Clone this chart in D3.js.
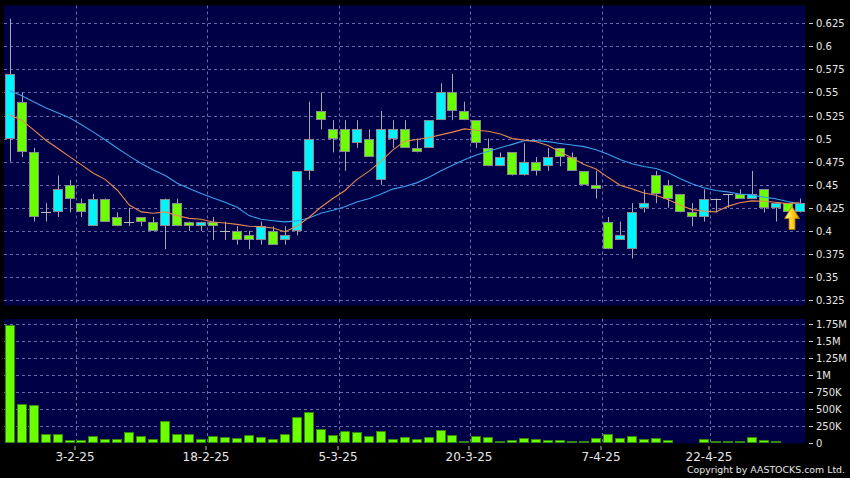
<!DOCTYPE html>
<html><head><meta charset="utf-8">
<script src="https://cdn.jsdelivr.net/npm/d3@7/dist/d3.min.js"></script>
<style>html,body{margin:0;padding:0;background:#000;}svg{display:block}</style>
</head><body>
<svg id="c" width="850" height="478"></svg>
<script>
// ---- data ----
const dates = ["21-1-25","22-1-25","23-1-25","24-1-25","27-1-25","28-1-25",
 "3-2-25","4-2-25","5-2-25","6-2-25","7-2-25","10-2-25","11-2-25","12-2-25","13-2-25","14-2-25",
 "17-2-25","18-2-25","19-2-25","20-2-25","21-2-25","24-2-25","25-2-25","26-2-25","27-2-25","28-2-25",
 "3-3-25","4-3-25","5-3-25","6-3-25","7-3-25","10-3-25","11-3-25","12-3-25","13-3-25","14-3-25",
 "17-3-25","18-3-25","19-3-25","20-3-25","21-3-25","24-3-25","25-3-25","26-3-25","27-3-25","28-3-25","31-3-25",
 "1-4-25","2-4-25","3-4-25","7-4-25","8-4-25","9-4-25","10-4-25","11-4-25","14-4-25","15-4-25","16-4-25","17-4-25",
 "22-4-25","23-4-25","24-4-25","25-4-25","28-4-25","29-4-25","30-4-25","2-5-25"];
const open  = [.50,.54,.485,.42,.42,.45,.43,.405,.435,.415,.41,.415,.41,.405,.43,.41,.405,.41,.40,.40,
 .395,.39,.40,.39,.40,.465,.53,.51,.51,.495,.50,.455,.50,.51,.49,.49,.52,.55,.53,.52,
 .49,.47,.485,.46,.475,.47,.49,.48,.465,.45,.41,.39,.38,.425,.46,.45,.44,.42,.415,.435,
 .44,.44,.435,.445,.425,.43,.42];
const high  = [.63,.55,.49,.43,.46,.455,.435,.44,.435,.42,.425,.415,.415,.435,.435,.41,.41,.415,.41,.405,
 .40,.41,.405,.405,.465,.54,.55,.52,.52,.52,.51,.53,.52,.52,.50,.52,.56,.57,.54,.52,
 .50,.485,.485,.495,.48,.49,.49,.485,.465,.465,.415,.41,.43,.445,.465,.455,.44,.43,.445,.435,
 .44,.445,.465,.445,.43,.43,.435];
const low   = [.475,.48,.41,.41,.415,.42,.415,.405,.41,.405,.405,.405,.40,.38,.405,.40,.40,.39,.39,.385,
 .38,.385,.385,.385,.395,.455,.51,.485,.465,.49,.48,.45,.49,.49,.485,.49,.52,.52,.52,.49,
 .47,.47,.46,.46,.46,.465,.47,.465,.45,.435,.38,.39,.37,.42,.43,.425,.42,.405,.41,.42,
 .425,.435,.435,.42,.41,.42,.42];
const close = [.57,.485,.415,.42,.445,.435,.42,.435,.41,.405,.41,.41,.40,.435,.405,.405,.41,.405,.40,.39,
 .39,.405,.385,.395,.465,.50,.52,.50,.485,.51,.48,.51,.51,.49,.485,.52,.55,.53,.52,.495,
 .47,.48,.46,.475,.465,.48,.48,.465,.45,.445,.38,.395,.42,.43,.44,.435,.42,.415,.435,.435,
 .44,.435,.44,.425,.43,.42,.43];
const volume = [1740000,580000,565000,140000,130000,50000,50000,110000,65000,62000,160000,107000,63000,323000,132000,132000,58000,107000,95000,85000,
 117000,92000,57000,131000,382000,462000,215000,115000,178000,166000,102000,176000,70000,97000,60000,97000,196000,117000,29000,107000,
 100000,32000,54000,83000,57000,46000,44000,34000,36000,73000,141000,73000,107000,63000,73000,54000,17000,20000,56000,31000,
 31000,31000,90000,44000,34000,17000,7000];
// moving-average values before a full window is visible
const ma10Early = [.5255,.520,.5095,.4985,.4895,.4805,.4715,.4625,.4555];
const ma20Early = [.552,.5465,.540,.5335,.528,.5225,.515,.507,.4985,.4895,.481,.473,.466,.460,.4515,.446,.4405,.4355,.431];
const priceTicks = [0.325,0.35,0.375,0.4,0.425,0.45,0.475,0.5,0.525,0.55,0.575,0.6,0.625];
const volTicks = [0,250000,500000,750000,1000000,1250000,1500000,1750000];
const volTickLabels = ["0","250K","500K","750K","1M","1.25M","1.5M","1.75M"];
const dateTicks = ["3-2-25","18-2-25","5-3-25","20-3-25","7-4-25","22-4-25"];

function sma(n, early){
  return close.map((c,i)=> i>=n-1 ? d3.mean(close.slice(i-n+1,i+1)) : early[i]);
}
const ma10 = sma(10, ma10Early), ma20 = sma(20, ma20Early);

// ---- layout ----
const svg = d3.select("#c");
const L = 3.7, R = 805.5;
const P = {top:5.5, bottom:305.5};
const V = {top:319, bottom:443.5};
const idx = d3.range(close.length);
const x = d3.scaleBand().domain(idx).range([L, R]);
const xc = i => x(i) + x.bandwidth()/2;
const y = d3.scaleLinear().domain([0.325,0.625]).range([300,23.3]);
const yv = d3.scaleLinear().domain([0,1750000]).range([443.3,324.3]);

const BG = "#000046", GRID = "#6a6aa6", TXT = "#e6e6e6";
const UP = "#00f6ff", DOWN = "#6cff00";

svg.append("rect").attr("width",850).attr("height",478).attr("fill","#000");
svg.append("rect").attr("x",4).attr("y",P.top).attr("width",R-4).attr("height",P.bottom-P.top).attr("fill",BG);
svg.append("rect").attr("x",4).attr("y",V.top).attr("width",R-4).attr("height",V.bottom-V.top).attr("fill",BG);

const crisp = v => Math.round(v)+0.5;
const tickIdx = dateTicks.map(t => dates.indexOf(t));

// grids
const g = svg.append("g").attr("stroke",GRID).attr("stroke-dasharray","3,3").attr("stroke-width",1);
priceTicks.forEach(t=>{ g.append("line").attr("x1",4).attr("x2",R).attr("y1",crisp(y(t))).attr("y2",crisp(y(t))); });
volTicks.slice(1).forEach(t=>{ g.append("line").attr("x1",4).attr("x2",R).attr("y1",crisp(yv(t))).attr("y2",crisp(yv(t))); });
tickIdx.forEach(i=>{
  const xx = crisp(x(i));
  g.append("line").attr("x1",xx).attr("x2",xx).attr("y1",P.top).attr("y2",P.bottom);
  g.append("line").attr("x1",xx).attr("x2",xx).attr("y1",V.top).attr("y2",V.bottom);
});

// right axes
const ax = svg.append("g").attr("font-family","DejaVu Sans, sans-serif").attr("font-size",10).attr("fill",TXT);
priceTicks.forEach(t=>{
  const yy = crisp(y(t));
  ax.append("line").attr("x1",809).attr("x2",813).attr("y1",yy).attr("y2",yy).attr("stroke","#cfcfcf");
  ax.append("text").attr("x",816).attr("y",yy+3.8).text(String(t));
});
volTicks.forEach((t,k)=>{
  const yy = crisp(yv(t));
  ax.append("line").attr("x1",809).attr("x2",813).attr("y1",yy).attr("y2",yy).attr("stroke","#cfcfcf");
  ax.append("text").attr("x",816).attr("y",yy+3.8).text(volTickLabels[k]);
});

// x axis ticks / labels
const xa = svg.append("g").attr("font-family","DejaVu Sans, sans-serif").attr("font-size",12).attr("fill",TXT).attr("text-anchor","middle");
tickIdx.forEach((i,k)=>{
  const xx = crisp(x(i)) - 1.5;
  xa.append("line").attr("x1",xx).attr("x2",xx).attr("y1",446).attr("y2",450).attr("stroke","#bdbdbd");
  xa.append("text").attr("x",xx).attr("y",461).text(dateTicks[k]);
});

// volume bars
svg.append("g").selectAll("rect").data(idx).join("rect")
  .attr("x", i=>Math.round(xc(i)-5)+0.5).attr("width",9)
  .attr("y", i=>Math.round(yv(volume[i]))+0.5)
  .attr("height", i=>Math.max(0, Math.round(yv(0)) - Math.round(yv(volume[i])) - 1))
  .attr("fill",DOWN).attr("stroke","#2f8a00").attr("stroke-width",1);

// candles
const cg = svg.append("g");
cg.selectAll("line.w").data(idx).join("line").attr("class","w")
  .attr("x1",i=>crisp(xc(i))).attr("x2",i=>crisp(xc(i)))
  .attr("y1",i=>y(high[i])).attr("y2",i=>y(low[i]))
  .attr("stroke","#a8a8a8").attr("stroke-width",1);
idx.forEach(i=>{
  const cx = xc(i);
  if (open[i] === close[i]) {
    const yy = crisp(y(close[i]));
    cg.append("line").attr("x1",Math.round(cx-5)).attr("x2",Math.round(cx+5)).attr("y1",yy).attr("y2",yy)
      .attr("stroke","#bcbcbc");
  } else {
    const t = Math.round(y(Math.max(open[i],close[i]))), b = Math.round(y(Math.min(open[i],close[i])));
    cg.append("rect").attr("x",Math.round(cx-5)+0.5).attr("width",9)
      .attr("y",t+0.5).attr("height",Math.max(1,b-t-1))
      .attr("fill", close[i]>open[i] ? UP : DOWN)
      .attr("stroke","#8a8a8a").attr("stroke-width",1);
  }
});

// moving averages
const line = d3.line().x((d,i)=>xc(i)).y(d=>y(d));
svg.append("path").attr("d",line(ma20)).attr("fill","none").attr("stroke","#3aa0ee").attr("stroke-width",1.1);
svg.append("path").attr("d",line(ma10)).attr("fill","none").attr("stroke","#e8884e").attr("stroke-width",1.1);

// latest-marker arrow
const defs = svg.append("defs");
const gr = defs.append("linearGradient").attr("id","ag").attr("x1","0").attr("x2","1").attr("y1","0").attr("y2","0");
gr.append("stop").attr("offset","0").attr("stop-color","#fff4a8");
gr.append("stop").attr("offset","0.5").attr("stop-color","#ffd21e");
gr.append("stop").attr("offset","1").attr("stop-color","#d89400");
const last = close.length-1;
const axc = (xc(last-1)+xc(last))/2 - 1.5, tip = 206.5;
svg.append("path")
  .attr("d",`M${axc},${tip} L${axc+7.5},${tip+12} L${axc+3},${tip+12} L${axc+3},${tip+23} L${axc-3},${tip+23} L${axc-3},${tip+12} L${axc-7.5},${tip+12} Z`)
  .attr("fill","url(#ag)").attr("stroke","#b07a00").attr("stroke-width",0.8);

// copyright
svg.append("text").attr("x",845).attr("y",473.3).attr("text-anchor","end")
  .attr("font-family","DejaVu Sans Condensed, DejaVu Sans, sans-serif").attr("font-size",9.5).attr("fill",TXT)
  .attr("textLength",158).attr("lengthAdjust","spacingAndGlyphs")
  .text("Copyright by AASTOCKS.com Ltd.");
</script>
</body></html>
